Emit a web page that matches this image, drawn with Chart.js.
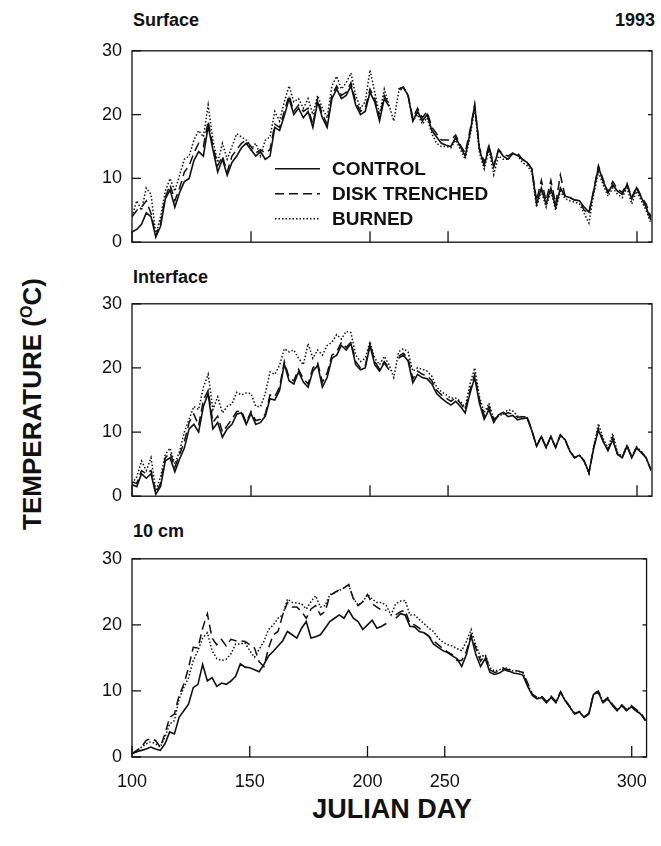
<!DOCTYPE html>
<html>
<head>
<meta charset="utf-8">
<script src="https://cdn.jsdelivr.net/npm/chart.js"></script>
<style>
  body { margin: 0; background: #fff; }
  #page { position: relative; width: 661px; height: 846px; font-family: "Liberation Sans", Arial, sans-serif; color: #111; }
  canvas { position: absolute; left: 0; }
  .lbl { position: absolute; font-weight: bold; white-space: nowrap; line-height: 1; }
</style>
</head>
<body>
<div id="page">
  <div class="lbl" style="left:133px; top:11px; font-size:18px;">Surface</div>
  <div class="lbl" style="right:6px; top:11px; font-size:18px;">1993</div>
  <div class="lbl" style="left:133px; top:268px; font-size:18px;">Interface</div>
  <div class="lbl" style="left:133px; top:522px; font-size:18px;">10 cm</div>
  <div class="lbl" style="left:32px; top:404px; font-size:26px; transform: translate(-50%, -50%) rotate(-90deg);">TEMPERATURE (<span style="font-size:16px; vertical-align:9px;">O</span>C)</div>
  <div class="lbl" style="left:392px; top:796px; font-size:27px; transform: translateX(-50%);">JULIAN DAY</div>
  <canvas id="surface" width="661" height="233" style="top:30px"></canvas>
  <canvas id="interface" width="661" height="234" style="top:283px"></canvas>
  <canvas id="tencm" width="661" height="264" style="top:538px"></canvas>
</div>
<script>
// position along the drawn axis (the printed axis is not evenly spaced)
const days = [
  100,102,104,106,108,110,112,114,116,118,
  120,122,124,126,128,130,132,134,136,138,
  140,142,144,146,148,150,152,154,156,158,
  160,162,164,166,168,170,172,174,176,178,
  180,182,184,186,188,190,192,194,196,198,
  200,202,204,206,208,210,212,214,216,218,
  220,222,224,226,228,230,232,234,236,238,
  240,242,244,246,248,250,252,254,256,258,
  260,262,264,266,268,270,272,274,276,278,
  280,282,284,286,288,290,292,294,296,298,
  300,302,304,306,308,310,312,314,316,318
];
const tickPos = [100, 150, 200, 232.8, 312.2];
const tickText = ['100', '150', '200', '250', '300'];
const yTicks = [0, 10, 20, 30];

const surfControl = [
  1.6, 2.0, 2.8, 4.6, 4.0, 0.8, 2.5, 6.8, 8.2, 5.5,
  7.8, 9.5, 10.0, 12.8, 14.2, 13.5, 18.2, 14.5, 11.0, 13.0,
  10.5, 12.5, 13.5, 14.8, 15.5, 14.5, 13.5, 14.2, 13.0, 13.5,
  18.0, 17.5, 19.8, 22.5, 20.0, 21.0, 19.5, 20.5, 18.0, 22.0,
  19.5, 18.0, 22.5, 24.0, 22.5, 23.0, 24.5, 21.5, 20.0, 20.5,
  23.5, 22.0, 19.0, 22.5, 21.3, null, 24.0, 24.3, 23.0, 19.0,
  20.5, 19.0, 20.0, 17.5, 16.5, 15.5, 15.2, 15.0, 16.4, 15.0,
  13.5, 17.0, 21.5, 14.5, 12.0, 15.0, 11.8, 14.5, 13.5, 13.0,
  13.9, 13.6, 13.0, 12.5, 11.5, 6.0, 8.5, 6.0, 8.5, 5.5,
  8.5, 7.2, 7.0, 6.6, 6.5, 5.5, 4.7, 8.0, 11.8, 9.5,
  7.8, 9.0, 8.0, 7.5, 9.0, 6.8, 8.5, 7.0, 5.5, 3.5
];
const surfDisk = [
  4.0, 5.0, 5.5, 6.5, 4.5, 1.0, 3.0, 7.0, 9.0, 6.5,
  8.5, 11.0, 12.0, 14.0, 15.5, 15.0, 19.0, 15.0, 12.0, 13.5,
  11.0, 13.5, 14.5, 15.5, 16.0, 15.0, 14.0, 14.5, 14.0, 14.5,
  18.5, 18.0, 20.5, 23.0, 20.5, 21.5, 20.5, 21.0, 18.5, 22.5,
  20.0, 18.5, 23.0, 24.5, 23.0, 23.5, 25.0, 22.0, 20.5, 21.0,
  24.0, 22.5, 19.5, 23.0, 21.5, null, 24.0, 24.3, 23.0, 19.5,
  21.0, 19.5, 20.5, 18.0, 17.0, 16.0, 16.0, 16.0, 16.8, 15.2,
  14.0, 17.5, 21.5, 14.8, 12.5, 15.2, 12.0, 14.5, 13.8, 13.5,
  14.0, 14.0, 13.0, 12.5, 11.5, 6.5, 9.7, 6.5, 9.7, 6.0,
  10.5, 7.2, 7.0, 6.6, 6.5, 5.0, 4.5, 8.2, 12.0, 9.8,
  7.8, 9.5, 8.3, 7.8, 9.2, 7.0, 8.7, 7.2, 6.0, 4.0
];
const surfBurned = [
  4.0, 6.5, 5.0, 8.5, 7.5, 1.2, 4.0, 8.0, 10.0, 8.0,
  10.5, 13.0, 13.5, 16.0, 17.5, 16.5, 21.5, 16.0, 12.5, 15.5,
  13.0, 15.0, 17.0, 16.5, 16.0, 14.5, 15.5, 13.5, 16.0, 16.5,
  20.5, 19.0, 22.0, 24.5, 22.0, 22.5, 21.0, 22.5, 20.0, 23.0,
  21.0, 19.5, 24.5, 26.0, 24.0, 25.0, 26.5, 23.0, 21.0, 22.0,
  27.0, 23.5, 20.0, 24.0, 21.5, 19.0, 23.5, 24.3, 23.0, 19.0,
  20.0, 18.5, 19.5, 17.0, 15.5, 15.0, 15.0, 14.8, 16.0, 14.5,
  13.0, 16.5, 21.0, 14.0, 11.5, 14.5, 10.6, 13.5, 13.0, 13.0,
  13.9, 13.6, 12.5, 12.0, 11.0, 5.5, 8.0, 5.5, 8.0, 5.0,
  8.0, 6.8, 6.5, 6.3, 6.0, 4.5, 3.0, 7.5, 11.0, 9.0,
  7.2, 8.5, 7.5, 7.0, 8.5, 6.0, 8.0, 6.5, 5.0, 3.0
];

const interControl = [
  1.8, 1.5, 3.5, 2.8, 3.5, 0.3, 1.5, 5.5, 6.0, 3.8,
  5.8, 7.5, 10.5, 11.2, 10.0, 14.0, 16.0, 10.5, 11.5, 9.2,
  10.5, 11.2, 12.8, 13.0, 11.2, 12.9, 11.2, 11.5, 12.5, 15.2,
  15.0, 16.5, 20.6, 18.0, 17.5, 19.4, 17.8, 17.0, 19.5, 20.4,
  17.0, 18.5, 21.5, 22.0, 23.5, 22.8, 23.8, 20.5, 19.7, 20.0,
  23.5, 20.5, 19.5, 20.8, 19.7, null, 21.5, 22.0, 21.1, 17.7,
  19.0, 18.5, 18.3, 17.5, 16.0, 15.3, 14.7, 14.2, 14.8, 14.0,
  13.0, 16.0, 18.5, 14.5, 12.0, 13.5, 11.5, 12.7, 13.1, 12.4,
  12.6, 11.9, 12.1, 12.2, 10.2, 7.8, 9.3, 7.6, 9.3, 7.6,
  9.5, 8.8, 7.0, 6.0, 6.4, 5.5, 3.7, 7.5, 10.3, 8.5,
  7.1, 8.8, 6.5, 6.0, 7.8, 6.0, 7.5, 6.8, 6.0, 4.2
];
const interDisk = [
  2.2, 2.0, 4.0, 3.5, 4.0, 0.5, 2.0, 6.0, 6.8, 4.5,
  6.5, 8.5, 11.5, 12.8, 11.0, 15.0, 16.5, 11.5, 12.5, 10.0,
  11.0, 12.0, 13.2, 13.3, 11.5, 13.2, 11.8, 12.0, 12.8, 15.8,
  15.5, 17.0, 21.0, 18.5, 18.0, 19.8, 18.3, 17.5, 20.0, 20.8,
  17.8, 19.2, 22.0, 22.5, 24.0, 23.2, 24.0, 21.0, 20.0, 20.3,
  23.8, 21.0, 19.8, 21.0, 20.0, null, 21.8, 22.3, 21.5, 18.3,
  19.5, 19.0, 18.8, 18.0, 16.5, 15.8, 15.3, 14.8, 15.3, 14.5,
  13.5, 16.5, 19.0, 15.0, 12.5, 14.0, 12.0, 12.5, 12.8, 13.0,
  12.8, 12.3, 12.4, 12.4, 10.3, 7.8, 9.4, 7.6, 9.3, 7.6,
  9.6, 8.8, 7.0, 6.0, 6.4, 5.5, 3.6, 7.6, 10.6, 8.6,
  7.2, 9.2, 6.6, 6.0, 7.9, 6.1, 7.6, 6.9, 6.0, 4.1
];
const interBurned = [
  2.0, 3.0, 5.5, 4.0, 6.0, 0.8, 3.0, 6.5, 7.5, 5.0,
  7.0, 10.0, 12.0, 14.0, 13.5, 17.0, 19.0, 13.5, 15.5, 13.0,
  14.0, 14.4, 16.2, 15.8, 16.1, 16.0, 14.0, 14.0, 16.0, 19.4,
  19.0, 20.4, 23.0, 22.5, 22.8, 21.5, 20.5, 23.8, 21.5, 22.8,
  22.0, 23.5, 24.0, 25.2, 24.5, 25.7, 25.5, 22.0, 21.0, 21.5,
  24.1, 21.5, 20.5, 21.8, 20.5, 18.5, 22.5, 23.0, 22.5, 19.5,
  20.0, 19.8, 19.5, 18.7, 17.0, 16.3, 15.8, 15.3, 15.3, 14.8,
  13.8, 17.5, 20.0, 15.5, 13.0, 14.5, 12.0, 12.5, 12.8, 13.5,
  13.3, 12.5, 12.4, 12.4, 10.2, 7.8, 9.3, 7.6, 9.3, 7.6,
  9.5, 8.8, 7.0, 6.0, 6.4, 5.5, 3.5, 7.8, 11.3, 9.0,
  7.5, 9.8, 6.8, 6.2, 8.0, 6.2, 7.7, 7.0, 6.0, 4.0
];

const cmControl = [
  0.5, 0.8, 1.0, 1.2, 1.5, 1.2, 1.0, 2.0, 3.8, 3.5,
  6.0, 7.0, 8.0, 10.5, 11.0, 14.0, 11.5, 12.0, 10.7, 11.2,
  11.0, 11.5, 12.2, 14.1, 13.6, 13.5, 13.2, 12.9, 14.0, 15.3,
  16.0, 16.8, 17.6, 19.0, 18.5, 18.0, 19.5, 20.5, 18.0, 18.2,
  18.5, 19.5, 20.5, 21.0, 21.5, 21.0, 22.2, 21.0, 20.5, 19.3,
  20.0, 20.7, 19.5, 19.8, 20.2, null, 21.0, 21.7, 21.5, 19.8,
  19.7, 19.0, 18.8, 18.3, 17.1, 16.6, 16.1, 15.8, 15.3, 14.9,
  13.7, 15.5, 18.3, 15.5, 13.7, 14.9, 12.8, 12.5, 12.7, 13.2,
  13.0, 12.7, 12.6, 12.4, 10.7, 9.3, 8.8, 9.0, 8.2, 9.0,
  8.2, 9.8, 8.5, 7.5, 6.5, 6.8, 6.0, 6.5, 9.5, 9.8,
  8.2, 8.8, 7.8, 7.0, 7.8, 7.0, 7.6, 7.0, 6.5, 5.5
];
const cmDisk = [
  0.5, 1.0, 1.5, 2.5, 2.8, 2.5, 1.5, 3.5, 6.0, 6.5,
  9.3, 11.0, 13.5, 16.6, 16.5, 19.5, 21.7, 18.0, 17.0, 17.8,
  16.8, 17.8, 17.6, 17.6, 17.5, 17.0, 16.5, 14.4, 13.7, 16.5,
  18.5, 19.0, 21.5, 23.4, 22.7, 22.7, 22.0, 21.0, 22.4, 22.9,
  21.5, 22.0, 24.4, 24.9, 25.3, 25.6, 26.1, 24.0, 22.9, 23.5,
  24.6, 23.2, 22.7, 22.2, 22.2, null, 21.5, 22.0, 22.2, 20.2,
  20.0, 19.5, 18.8, 18.3, 17.6, 17.0, 16.4, 15.9, 15.5, 14.6,
  14.6, 16.0, 18.5, 16.5, 14.5, 15.4, 13.2, 12.8, 13.0, 13.4,
  13.2, 13.2, 13.0, 12.8, 11.2, 9.5, 9.0, 9.2, 8.4, 9.2,
  8.4, 9.9, 8.6, 7.6, 6.6, 6.9, 6.1, 6.6, 9.6, 10.0,
  8.4, 9.0, 8.0, 7.2, 7.9, 7.2, 7.8, 7.2, 6.7, 5.6
];
const cmBurned = [
  0.5, 0.8, 1.5, 2.0, 2.3, 2.0, 1.5, 3.0, 5.0, 5.5,
  8.8, 10.5, 12.0, 14.6, 16.1, 18.0, 18.8, 16.1, 14.9, 14.6,
  14.8, 15.6, 17.1, 17.1, 17.3, 16.1, 15.1, 16.3, 17.5, 19.3,
  20.0, 21.0, 21.5, 23.9, 23.4, 23.3, 23.2, 22.4, 23.5, 24.4,
  22.7, 22.9, 24.6, 24.8, 25.2, 25.6, 26.1, 24.0, 23.0, 23.5,
  24.6, 23.9, 23.4, 23.4, 22.9, 21.5, 23.2, 23.6, 23.7, 21.5,
  21.5, 20.8, 20.2, 19.5, 19.0, 18.0, 17.4, 17.0, 16.8, 16.4,
  16.1, 17.5, 19.3, 17.0, 15.1, 15.5, 13.5, 13.0, 13.2, 13.6,
  13.3, 13.0, 13.0, 12.8, 11.0, 9.5, 8.9, 9.1, 8.3, 9.1,
  8.3, 9.8, 8.5, 7.5, 6.5, 6.8, 6.0, 6.5, 9.5, 9.9,
  8.3, 8.9, 7.9, 7.1, 7.8, 7.1, 7.7, 7.1, 6.6, 5.5
];

const FONT = '"Liberation Sans", Arial, sans-serif';
const INK = '#111';

// box round the plot and short ticks pointing inwards
const framePlugin = {
  id: 'frame',
  afterDatasetsDraw(chart) {
    const { ctx, chartArea: a, scales: { x, y } } = chart;
    ctx.save();
    ctx.strokeStyle = INK;
    ctx.lineWidth = 1.3;
    ctx.setLineDash([]);
    ctx.strokeRect(a.left, a.top, a.right - a.left, a.bottom - a.top);
    ctx.beginPath();
    y.ticks.forEach(t => {
      const py = y.getPixelForValue(t.value);
      ctx.moveTo(a.left, py); ctx.lineTo(a.left + 9, py);
      ctx.moveTo(a.right, py); ctx.lineTo(a.right - 4, py);
    });
    x.ticks.forEach(t => {
      const px = x.getPixelForValue(t.value);
      ctx.moveTo(px, a.bottom); ctx.lineTo(px, a.bottom - 11);
    });
    ctx.stroke();
    ctx.restore();
  }
};

// legend sits inside the surface panel
const legendPlugin = {
  id: 'inlineLegend',
  afterDraw(chart) {
    const { ctx, chartArea: a } = chart;
    ctx.save();
    ctx.font = 'bold 19px ' + FONT;
    ctx.textBaseline = 'middle';
    ctx.fillStyle = INK;
    ctx.strokeStyle = INK;
    chart.data.datasets.forEach((ds, i) => {
      const yy = a.top + 118 + i * 25;
      ctx.setLineDash(ds.borderDash || []);
      ctx.lineWidth = ds.borderWidth;
      ctx.beginPath();
      ctx.moveTo(a.left + 143, yy);
      ctx.lineTo(a.left + 188, yy);
      ctx.stroke();
      ctx.setLineDash([]);
      ctx.fillText(ds.label, a.left + 200, yy + 1);
    });
    ctx.restore();
  }
};

function pts(values) {
  return days.map((d, i) => ({ x: d, y: values[i] }));
}

function makePanel(id, control, disk, burned, showX, extraPlugins) {
  return new Chart(document.getElementById(id), {
    type: 'line',
    data: {
      datasets: [
        { label: 'CONTROL', data: pts(control), borderWidth: 1.6, borderDash: [] },
        { label: 'DISK TRENCHED', data: pts(disk), borderWidth: 1.5, borderDash: [9, 5] },
        { label: 'BURNED', data: pts(burned), borderWidth: 1.5, borderDash: [1.5, 2] }
      ]
    },
    options: {
      animation: false,
      responsive: false,
      spanGaps: false,
      layout: { padding: { left: 0, right: 9, top: 14, bottom: showX ? 0 : 14 } },
      plugins: { legend: { display: false }, tooltip: { enabled: false } },
      elements: {
        point: { radius: 0 },
        line: { tension: 0, borderColor: INK, fill: false }
      },
      scales: {
        x: {
          type: 'linear',
          min: 100,
          max: 318.5,
          afterBuildTicks: s => { s.ticks = tickPos.map(v => ({ value: v })); },
          afterFit: s => { s.height = showX ? 45 : 0; },
          grid: { display: false, drawTicks: false },
          border: { display: false },
          ticks: {
            display: showX,
            autoSkip: false,
            maxRotation: 0,
            padding: 14,
            color: INK,
            font: { family: FONT, size: 18 },
            callback: v => tickText[tickPos.indexOf(v)]
          }
        },
        y: {
          min: 0,
          max: 30,
          afterBuildTicks: s => { s.ticks = yTicks.map(v => ({ value: v })); },
          afterFit: s => { s.width = 132; },
          grid: { display: false, drawTicks: false },
          border: { display: false },
          ticks: { padding: 10, color: INK, font: { family: FONT, size: 18 } }
        }
      }
    },
    plugins: [framePlugin].concat(extraPlugins || [])
  });
}

makePanel('surface', surfControl, surfDisk, surfBurned, false, [legendPlugin]);
makePanel('interface', interControl, interDisk, interBurned, false);
makePanel('tencm', cmControl, cmDisk, cmBurned, true);
</script>
</body>
</html>
